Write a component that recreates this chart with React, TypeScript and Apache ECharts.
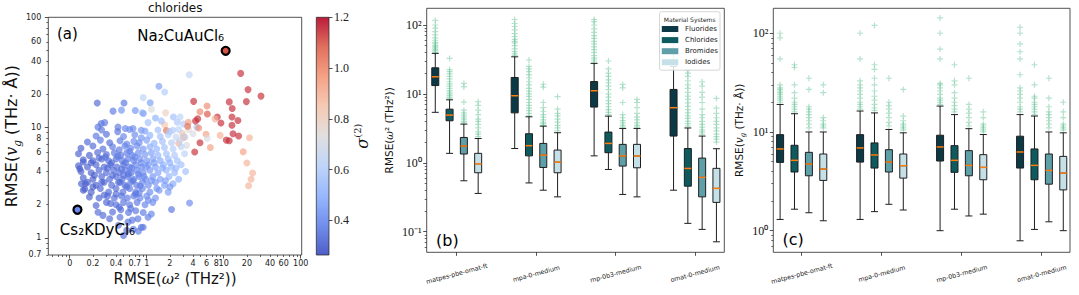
import { useEffect, useRef } from 'react';
import * as echarts from 'echarts';

// ---------- shared categories ----------
const models = ['matpes-pbe-omat-ft', 'mpa-0-medium', 'mp-0b3-medium', 'omat-0-medium'];
const materials = ['Fluorides', 'Chlorides', 'Bromides', 'Iodides'];
const materialColors = ['#0b3a46', '#0d5a5f', '#5e9fa8', '#c5e0e6'];
const boxOffsets = [-0.27, -0.09, 0.09, 0.27];

// ---------- panel (a): chlorides scatter [RMSE(w^2), RMSE(v_g), sigma] ----------
const chloridePoints: number[][] = [
  [0.228, 16.7, 0.32], [0.507, 16.7, 0.35], [0.365, 14.1, 0.36], [0.71, 14.3, 0.42], [0.87, 13.7, 0.58], [1.11, 16.8, 0.45],
  [1.44, 23.7, 0.45], [0.9, 18.7, 0.62], [1.71, 21, 0.6], [1.15, 14.7, 0.72], [1.76, 13.6, 0.8], [3.57, 30.1, 0.64],
  [0.257, 10.9, 0.34], [0.285, 11.1, 0.36], [0.233, 10.1, 0.35], [0.424, 10.1, 0.36], [0.527, 9.8, 0.38], [0.664, 9.8, 0.4],
  [0.85, 9.45, 0.42], [1.04, 11.1, 0.55], [1.71, 10.6, 0.85], [1.8, 9.4, 1.05], [2.19, 9.45, 0.6], [2.5, 11.2, 0.58],
  [2.22, 12.5, 0.55], [2.71, 12.5, 0.62], [0.47, 14.4, 0.42], [0.905, 13.4, 0.45], [1.3, 12.2, 0.5], [1.55, 11.5, 0.55],
  [3.15, 8.2, 0.66], [4.0, 8.8, 0.72], [4.47, 10.1, 0.58], [3.0, 10.8, 0.6], [3.5, 9.6, 0.75],
  [16.6, 31, 1.15], [20.7, 22.1, 1.15], [30.5, 19.3, 1.15], [19.7, 17.2, 1.15], [11.8, 17.1, 1.15], [12.9, 14.9, 1.15],
  [4.07, 17.3, 1.15], [6.07, 15.7, 1.0], [4.92, 13.9, 1.0], [6.13, 13.3, 1.1], [8.26, 12.5, 1.15], [4.6, 12.0, 1.15],
  [4.3, 11.5, 1.15], [7.7, 12, 0.9], [12.8, 12.5, 1.15], [15.3, 11.6, 1.15], [9.2, 11.0, 1.15], [12.8, 10.5, 1.15],
  [3.47, 11.2, 0.95], [3.4, 10.3, 1.05], [4.73, 9.9, 1.0], [5.9, 8.7, 0.95], [9.0, 8.5, 0.9], [13.2, 8.8, 1.15],
  [15.6, 8.4, 1.15], [10.8, 7.7, 1.15], [11.8, 7.6, 1.15], [21.6, 8.1, 0.9], [4.92, 7.3, 1.15], [6.7, 6.6, 0.95],
  [4.2, 6.0, 1.15], [17.9, 6.05, 0.95], [20, 4.77, 0.9], [23.7, 3.87, 0.9], [22.7, 3.4, 0.9], [21, 2.97, 0.9],
  [6.1, 8.0, 0.72], [2.9, 8.9, 0.85], [2.6, 7.2, 0.9], [3.3, 6.9, 0.72], [2.99, 8.2, 0.95],
  [0.26, 9.5, 0.35], [0.42, 9.2, 0.35], [0.6, 9.6, 0.4], [0.95, 9.3, 0.45], [1.4, 9.5, 0.55], [2.0, 9.2, 0.6], [2.6, 9.6, 0.62],
  [0.22, 8.4, 0.35], [0.3, 8.7, 0.33], [0.5, 8.3, 0.38], [0.7, 8.6, 0.4], [0.85, 8.1, 0.42], [1.1, 8.5, 0.5], [1.5, 8.3, 0.55],
  [1.9, 8.6, 0.6], [2.4, 8.2, 0.65], [3.0, 8.4, 0.68],
  [0.17, 7.4, 0.32], [0.25, 7.7, 0.35], [0.33, 7.3, 0.33], [0.45, 7.6, 0.36], [0.55, 7.1, 0.38], [0.68, 7.5, 0.4],
  [0.8, 7.3, 0.4], [1.0, 7.7, 0.45], [1.25, 7.2, 0.5], [1.6, 7.5, 0.55], [2.1, 7.3, 0.6], [2.7, 7.6, 0.65],
  [0.14, 6.5, 0.3], [0.2, 6.8, 0.32], [0.27, 6.4, 0.33], [0.36, 6.7, 0.35], [0.44, 6.3, 0.35], [0.52, 6.8, 0.38],
  [0.62, 6.5, 0.38], [0.75, 6.8, 0.4], [0.9, 6.4, 0.42], [1.1, 6.7, 0.48], [1.35, 6.4, 0.5], [1.7, 6.6, 0.55], [2.2, 6.4, 0.6], [2.8, 6.7, 0.62],
  [0.13, 5.8, 0.3], [0.18, 5.6, 0.3], [0.23, 5.95, 0.32], [0.3, 5.7, 0.33], [0.38, 5.9, 0.35], [0.46, 5.6, 0.34],
  [0.55, 5.9, 0.36], [0.65, 5.6, 0.38], [0.78, 5.9, 0.4], [0.95, 5.7, 0.42], [1.15, 5.9, 0.45], [1.4, 5.6, 0.5],
  [1.8, 5.8, 0.55], [2.3, 5.6, 0.58], [3.1, 5.8, 0.62],
  [0.15, 5.1, 0.3], [0.2, 5.0, 0.31], [0.26, 5.2, 0.32], [0.32, 5.0, 0.33], [0.4, 5.2, 0.34], [0.48, 5.0, 0.35],
  [0.57, 5.2, 0.36], [0.68, 5.0, 0.37], [0.82, 5.2, 0.4], [1.0, 5.0, 0.42], [1.2, 5.2, 0.45], [1.5, 5.0, 0.48], [1.9, 5.2, 0.52], [2.5, 5.0, 0.55],
  [0.13, 4.5, 0.3], [0.17, 4.4, 0.3], [0.22, 4.6, 0.31], [0.28, 4.4, 0.32], [0.34, 4.6, 0.33], [0.41, 4.4, 0.33],
  [0.5, 4.6, 0.35], [0.6, 4.4, 0.36], [0.72, 4.6, 0.38], [0.86, 4.4, 0.4], [1.05, 4.6, 0.42], [1.3, 4.4, 0.45],
  [1.65, 4.6, 0.5], [2.1, 4.4, 0.52], [2.8, 4.6, 0.55],
  [0.14, 4.0, 0.3], [0.19, 3.9, 0.3], [0.24, 4.1, 0.31], [0.3, 3.9, 0.32], [0.37, 4.1, 0.33], [0.44, 3.9, 0.34],
  [0.53, 4.1, 0.35], [0.63, 3.9, 0.36], [0.75, 4.1, 0.38], [0.9, 3.9, 0.4], [1.1, 4.1, 0.42], [1.4, 3.9, 0.45],
  [1.8, 4.1, 0.5], [2.3, 3.9, 0.52], [3.2, 4.0, 0.55],
  [0.15, 3.5, 0.3], [0.2, 3.4, 0.3], [0.26, 3.6, 0.31], [0.33, 3.4, 0.32], [0.4, 3.6, 0.33], [0.48, 3.4, 0.34],
  [0.57, 3.6, 0.35], [0.68, 3.4, 0.36], [0.8, 3.6, 0.38], [0.97, 3.4, 0.4], [1.2, 3.6, 0.42], [1.5, 3.4, 0.45], [1.95, 3.6, 0.5], [2.6, 3.4, 0.5],
  [0.16, 3.1, 0.3], [0.22, 3.0, 0.3], [0.28, 3.2, 0.31], [0.35, 3.0, 0.32], [0.43, 3.2, 0.33], [0.52, 3.0, 0.34],
  [0.62, 3.2, 0.35], [0.74, 3.0, 0.36], [0.88, 3.2, 0.38], [1.05, 3.0, 0.4], [1.3, 3.2, 0.42], [1.7, 3.0, 0.45], [2.2, 3.1, 0.48],
  [0.15, 2.7, 0.3], [0.19, 2.6, 0.3], [0.25, 2.8, 0.31], [0.32, 2.6, 0.32], [0.4, 2.8, 0.33], [0.49, 2.6, 0.34],
  [0.6, 2.8, 0.35], [0.72, 2.6, 0.36], [0.88, 2.8, 0.38], [1.1, 2.6, 0.4], [1.45, 2.7, 0.42], [1.9, 2.6, 0.45],
  [0.18, 2.35, 0.3], [0.24, 2.3, 0.31], [0.31, 2.4, 0.32], [0.38, 2.3, 0.33], [0.47, 2.4, 0.34], [0.56, 2.3, 0.35],
  [0.68, 2.4, 0.36], [0.82, 2.3, 0.38], [1.0, 2.4, 0.4], [1.3, 2.3, 0.42],
  [0.3, 2.1, 0.31], [0.4, 2.0, 0.33], [0.5, 2.1, 0.34], [0.6, 2.0, 0.35], [0.75, 2.1, 0.36], [0.95, 2.0, 0.38],
  [1.2, 2.1, 0.4], [2.1, 1.81, 0.35], [3.6, 2.07, 0.4],
  [0.36, 1.72, 0.32], [0.46, 1.8, 0.33], [0.58, 1.7, 0.34], [0.72, 1.76, 0.35], [0.9, 1.7, 0.36],
  [0.5, 1.05, 0.33], [0.55, 1.17, 0.34], [0.67, 1.2, 0.35], [0.78, 1.15, 0.36], [0.9, 1.25, 0.36], [0.43, 1.3, 0.33], [0.65, 1.45, 0.35],
  [0.29, 5.4, 0.34], [0.35, 4.8, 0.33], [0.42, 5.5, 0.36], [0.47, 4.2, 0.34], [0.53, 4.8, 0.35], [0.58, 3.8, 0.35],
  [0.64, 4.3, 0.37], [0.7, 5.4, 0.38], [0.36, 3.7, 0.33], [0.31, 4.3, 0.32], [0.45, 3.2, 0.33], [0.55, 2.9, 0.34],
  [0.66, 3.3, 0.36], [0.78, 3.8, 0.38], [0.85, 4.8, 0.4], [0.92, 3.6, 0.4], [0.26, 3.2, 0.31], [0.4, 2.5, 0.33],
  [0.5, 3.7, 0.34], [0.6, 6.1, 0.38], [0.72, 2.5, 0.36], [0.82, 2.95, 0.37], [0.98, 4.4, 0.42], [1.15, 3.3, 0.42],
  [1.25, 4.8, 0.45], [1.35, 2.8, 0.42], [1.6, 4.3, 0.48], [1.75, 3.3, 0.45], [2.0, 4.8, 0.5], [2.4, 4.3, 0.52],
  [2.0, 2.9, 0.42], [0.24, 5.3, 0.32], [0.19, 4.8, 0.3], [0.21, 3.7, 0.3], [0.17, 3.2, 0.3], [0.2, 2.9, 0.3],
  [0.28, 2.45, 0.32], [0.34, 2.05, 0.32], [0.44, 1.9, 0.33], [0.62, 1.85, 0.35], [0.8, 2.55, 0.37], [1.05, 2.2, 0.4],
  [0.233, 1.71, 0.33], [0.33, 1.49, 0.32], [0.27, 1.6, 0.32], [0.45, 1.54, 0.34], [0.57, 1.39, 0.34], [0.77, 1.49, 0.35],
  [1.04, 1.54, 0.37], [0.85, 1.25, 0.36], [1.15, 1.65, 0.38], [0.157, 2.78, 0.3], [0.142, 3.1, 0.3], [0.135, 4.24, 0.3],
  [0.15, 4.87, 0.31], [0.22, 1.97, 0.31],
];
const highlightNames = ['Na₂CuAuCl₆', 'Cs₂KDyCl₆'];
const highlightPoints = [[10.6, 49.7, 1.1], [0.126, 1.8, 0.4]];

// axis ticks / labels panel (a)
const aXLabels = [0.1, 0.2, 0.4, 0.7, 1, 2, 4, 6, 8, 10, 20, 40, 60, 100];
const aXMajor = [0.1, 1, 10, 100];
const aXMinor = [0.06, 0.07, 0.08, 0.09, 0.2, 0.3, 0.4, 0.5, 0.6, 0.7, 0.8, 0.9, 2, 3, 4, 5, 6, 7, 8, 9, 20, 30, 40, 50, 60, 70, 80, 90];
const aYLabels = [0.7, 1, 2, 4, 6, 8, 10, 20, 40, 60, 100];
const aYMajor = [1, 10, 100];
const aYMinor = [0.7, 0.8, 0.9, 2, 3, 4, 5, 6, 7, 8, 9, 20, 30, 40, 50, 60, 70, 80, 90];
const sigmaTicks = [0.4, 0.6, 0.8, 1.0, 1.2];
const coolwarm = ['#3b4cc0', '#6282ea', '#8db0fe', '#b8d0f9', '#dddcdc', '#f5c4ac', '#f4987a', '#de604d', '#b40426'];

// ---------- panel (b): RMSE(w^2) boxes [min, Q1, median, Q3, max] per model ----------
const omegaFluorides = [[5.4, 13.2, 17.7, 23.9, 38.7], [1.61, 5.3, 9.4, 17.3, 34.5], [1.26, 6.43, 11.1, 15.1, 27.7], [0.4, 2.44, 6.3, 11.6, 25]];
const omegaChlorides = [[1.37, 4.07, 4.92, 6.0, 8.2], [0.51, 1.26, 1.77, 2.64, 4.65], [0.8, 1.4, 1.91, 2.79, 4.75], [0.132, 0.458, 0.828, 1.61, 3.2]];
const omegaBromides = [[0.548, 1.34, 1.75, 2.33, 3.64], [0.4, 0.855, 1.29, 1.91, 3.4], [0.347, 0.895, 1.26, 1.85, 3.15], [0.108, 0.32, 0.614, 1.17, 2.44]];
const omegaIodides = [[0.359, 0.716, 0.967, 1.37, 2.25], [0.32, 0.716, 1.02, 1.53, 2.73], [0.32, 0.846, 1.25, 1.85, 3.15], [0.0713, 0.266, 0.425, 0.83, 1.6]];
const omegaFluoridesOut = [
  [40, 42, 44, 46, 48, 50, 53, 56, 60, 65, 72, 80, 90, 100, 117],
  [36, 38, 41, 45, 50, 55, 58, 62, 68, 75, 85, 95, 105, 120],
  [29, 31, 33, 36, 40, 44, 48, 53, 58, 64, 70, 78, 88, 100, 112, 120],
  [27, 30, 34, 38, 43, 48, 55, 62, 70, 80, 95, 110],
];
const omegaChloridesOut = [
  [8.6, 9, 9.5, 10, 10.6, 11.2, 12, 13, 14, 15, 16.5, 18, 19.5, 21, 22.5, 32.7],
  [4.8, 5.2, 5.7, 6.2, 6.8, 7.5, 8.3, 9.2, 10, 11, 12, 13.5, 15, 17, 19, 21, 23, 25, 31],
  [5, 5.4, 5.9, 6.5, 7.2, 8, 9, 10, 11.5, 13, 14.5, 16, 18, 20, 23, 30],
  [3.4, 3.7, 4, 4.4, 4.8, 5.3, 5.9, 6.6, 7.4, 8.3, 9.3, 10.5, 12, 13.5, 15.5, 18, 20, 22],
];
const omegaBromidesOut = [
  [3.8, 4, 4.3, 4.6, 4.9, 5.3, 5.8, 7.6, 12.6, 14.2],
  [3.5, 3.7, 3.9, 4.2, 4.6, 5, 5.6, 6.3, 7.5, 12.5, 13.8],
  [3.3, 3.5, 3.8, 4.1, 4.5, 5, 7.5, 12.2, 13.7],
  [2.6, 2.8, 3, 3.3, 3.6, 4, 4.5, 5, 6, 7.5, 9, 10.5, 13, 15],
];
const omegaIodidesOut = [
  [2.4, 2.6, 2.8, 3.2, 3.6, 4, 4.3, 5, 5.8, 6.8, 7.7],
  [2.9, 3.2, 3.5, 3.9, 4.3, 4.8, 5.2, 6, 9.1],
  [3.3, 3.5, 3.8, 4.2, 4.6, 5.2, 6.3, 7.5, 8.3],
  [2, 2.2, 2.4, 2.6, 2.9, 3.2, 3.6, 4, 4.5, 5.2, 6.2, 8.6],
];

// ---------- panel (c): RMSE(v_g) boxes ----------
const vgFluorides = [[1.3, 4.92, 6.73, 9.4, 19], [1.3, 4.95, 6.89, 9.4, 16.3], [1.0, 5.08, 7.05, 9.27, 18.3], [0.79, 4.31, 6.27, 9.06, 15]];
const vgChlorides = [[1.65, 3.93, 5.16, 7.33, 15.3], [1.56, 4.31, 5.85, 7.75, 15.6], [1.65, 3.9, 5.16, 7.27, 15], [1.03, 3.28, 4.59, 6.73, 14.5]];
const vgBromides = [[1.52, 3.6, 4.73, 6.22, 10], [1.85, 3.93, 4.96, 6.62, 10.6], [1.41, 3.6, 4.59, 6.47, 10.8], [1.23, 2.96, 4.08, 5.98, 10]];
const vgIodides = [[1.26, 3.23, 4.21, 5.98, 10], [1.62, 3.41, 4.55, 5.98, 9.8], [1.47, 3.28, 4.38, 5.89, 9.42], [1.0, 2.59, 3.83, 5.66, 9.8]];
const vgFluoridesOut = [
  [20, 21, 22, 23, 24, 25, 26, 27, 28, 30, 55, 90, 100],
  [17, 18, 19, 20, 22, 24, 26, 28, 30, 33, 55, 100],
  [19, 20, 21, 22, 24, 26, 28, 30, 31, 55, 69, 100, 143],
  [16, 17, 18, 20, 22, 24, 26, 28, 38, 55, 65, 78, 100, 115],
];
const vgChloridesOut = [
  [16, 17, 18, 19, 20, 22, 25, 30, 45, 48],
  [16.5, 17.5, 19, 21, 23, 26, 30, 35, 43, 48, 120],
  [16, 17, 18.5, 20, 22, 25, 30, 33, 48],
  [15, 16, 17, 18, 19, 20, 22, 23, 30, 48],
];
const vgBromidesOut = [
  [11, 12, 13, 14, 15, 16, 17, 18, 27, 35],
  [11.5, 12.5, 14, 15.5, 17, 18.5, 20, 35],
  [11.5, 12.5, 14, 15.5, 17, 19, 35],
  [11, 12, 13, 14, 15, 16, 18, 22, 35],
];
const vgIodidesOut = [
  [11, 11.5, 12, 13, 14, 25, 30],
  [10.5, 11, 11.5, 12, 13, 14.5, 27],
  [10, 10.5, 11, 11.5, 12, 14, 16],
  [10.5, 11, 11.5, 12, 14, 16, 20],
];

const bYMajor = [0.1, 1, 10, 100];
const bYMinor = [0.06, 0.07, 0.08, 0.09, 0.2, 0.3, 0.4, 0.5, 0.6, 0.7, 0.8, 0.9, 2, 3, 4, 5, 6, 7, 8, 9, 20, 30, 40, 50, 60, 70, 80, 90];
const cYMajor = [1, 10, 100];
const cYMinor = [0.7, 0.8, 0.9, 2, 3, 4, 5, 6, 7, 8, 9, 20, 30, 40, 50, 60, 70, 80, 90];
const modelTicks = [0, 1, 2, 3];

const PLUS = 'path://M4,0H6V4H10V6H6V10H4V6H0V4H4Z';
const SANS = 'DejaVu Sans';
const SERIF = 'Liberation Serif';
const AX = '#262626';
const SUP: Record<string, string> = { '-': '⁻', '0': '⁰', '1': '¹', '2': '²', '3': '³' };

function fmtNum(v: number) {
  return String(parseFloat(Number(v).toPrecision(3)));
}
function powLabel(v: number) {
  const e = String(Math.round(Math.log10(v)));
  return '10' + e.split('').map((c) => SUP[c] ?? c).join('');
}
const noLine = { show: false, onZero: false };

function buildBoxes(stats: number[][][], xi: number, yi: number, outs: number[][][]) {
  const boxData: any[] = [];
  const medData: any[] = [];
  const outData: any[] = [];
  stats.forEach((perModel, m) => {
    perModel.forEach((s, g) => {
      const x = g + boxOffsets[m];
      boxData.push({ value: [x, ...s], itemStyle: { color: materialColors[m] } });
      medData.push([x, s[2]]);
      outs[m][g].forEach((v) => outData.push([x, v]));
    });
  });
  return [
    {
      type: 'scatter', xAxisIndex: xi, yAxisIndex: yi, symbol: PLUS, symbolSize: 6, z: 1,
      itemStyle: { color: '#5cbf8e', opacity: 0.45 }, data: outData, silent: true,
    },
    {
      type: 'boxplot', xAxisIndex: xi, yAxisIndex: yi, boxWidth: [7, 7], z: 2,
      itemStyle: { borderColor: '#1e1e1e', borderWidth: 1 }, data: boxData, silent: true,
    },
    {
      type: 'scatter', xAxisIndex: xi, yAxisIndex: yi, symbol: 'rect', symbolSize: [7, 1.5], z: 3,
      itemStyle: { color: '#ff7f0e', opacity: 1 }, data: medData, silent: true,
    },
  ];
}

function minorAxis(base: any, values: number[], len: number, position: string) {
  return {
    ...base,
    position,
    axisLine: noLine,
    axisLabel: { show: false },
    splitLine: { show: false },
    axisTick: { show: true, customValues: values, length: len, lineStyle: { color: AX, width: 0.7 } },
  };
}

export default function App() {
  const ref = useRef<HTMLDivElement>(null);
  useEffect(() => {
    if (!ref.current) return;
    const chart = echarts.init(ref.current, null, { renderer: 'svg' });

    const gridBase = { show: true, borderColor: AX, borderWidth: 0.8, backgroundColor: 'transparent', containLabel: false, outerBoundsMode: 'none' };

    // --- x axes ---
    const aX = { type: 'log', gridIndex: 0, logBase: 10, min: 0.0527, max: 103 };
    const bX = { type: 'value', gridIndex: 2, min: -0.378, max: 3.369 };
    const cX = { type: 'value', gridIndex: 3, min: -0.355, max: 3.354 };
    const catLabel = {
      customValues: modelTicks, formatter: (v: number) => models[Math.round(v)] ?? '',
      rotate: 15, align: 'center', verticalAlign: 'middle', margin: 21, fontSize: 6.3, color: '#222', fontFamily: SANS,
    };
    const xAxis: any[] = [
      {
        ...aX, position: 'bottom', axisLine: noLine, splitLine: { show: false },
        axisTick: { show: true, customValues: aXMajor, length: 3.5, lineStyle: { color: AX, width: 0.8 } },
        axisLabel: { customValues: aXLabels, formatter: (v: number) => (Math.abs(v - 0.1) < 1e-9 ? '0' : fmtNum(v)), fontSize: 8, margin: 4, color: '#222', fontFamily: SANS },
        name: '{t|RMSE(}{i|ω}{t|² (THz²))}', nameLocation: 'middle', nameGap: 12,
        nameTextStyle: { rich: { t: { fontSize: 15, fontFamily: SANS, color: '#111' }, i: { fontSize: 15, fontFamily: 'DejaVu Serif', fontStyle: 'italic', color: '#111' } } },
      },
      minorAxis(aX, aXMinor, 2, 'bottom'),
      { type: 'value', gridIndex: 1, show: false, min: 0, max: 1, axisLine: noLine },
      {
        ...bX, position: 'bottom', axisLine: noLine, splitLine: { show: false },
        axisTick: { show: true, customValues: modelTicks, length: 3.5, lineStyle: { color: AX, width: 0.8 } },
        axisLabel: catLabel,
      },
      {
        ...cX, position: 'bottom', axisLine: noLine, splitLine: { show: false },
        axisTick: { show: true, customValues: modelTicks, length: 3.5, lineStyle: { color: AX, width: 0.8 } },
        axisLabel: catLabel,
      },
    ];

    // --- y axes ---
    const aY = { type: 'log', gridIndex: 0, logBase: 10, min: 0.6999, max: 100.001 };
    const bY = { type: 'log', gridIndex: 2, logBase: 10, min: 0.0502, max: 174.6 };
    const cY = { type: 'log', gridIndex: 3, logBase: 10, min: 0.604, max: 179 };
    const vgRich = (fs: number, lh: number) => ({
      t: { fontSize: fs, fontFamily: SANS, color: '#111', lineHeight: lh },
      i: { fontSize: fs, fontFamily: 'DejaVu Serif', fontStyle: 'italic', color: '#111', lineHeight: lh },
      g: { fontSize: fs * 0.65, fontFamily: 'DejaVu Serif', fontStyle: 'italic', color: '#111', lineHeight: fs * 0.65, verticalAlign: 'bottom' },
    });
    const powLabelStyle = { formatter: powLabel, margin: 5, fontFamily: SERIF, fontSize: 12, color: '#111' };
    const yAxis: any[] = [
      {
        ...aY, position: 'left', axisLine: noLine, splitLine: { show: false },
        axisTick: { show: true, customValues: aYMajor, length: 3.5, lineStyle: { color: AX, width: 0.8 } },
        axisLabel: { customValues: aYLabels, formatter: (v: number) => fmtNum(v), fontSize: 8, margin: 7, color: '#222', fontFamily: SANS },
        name: '{t|RMSE(}{i|v}{g|g}{t| (THz· Å))}', nameLocation: 'middle', nameGap: 25,
        nameTextStyle: { rich: vgRich(16, 22) },
      },
      minorAxis(aY, aYMinor, 2, 'left'),
      {
        type: 'value', gridIndex: 1, min: 0.264, max: 1.2, position: 'right',
        axisLine: noLine, splitLine: { show: false },
        axisTick: { show: true, customValues: sigmaTicks, length: 3.5, lineStyle: { color: AX, width: 0.8 } },
        axisLabel: { customValues: sigmaTicks, formatter: (v: number) => v.toFixed(1), fontSize: 12, margin: 5, color: '#222', fontFamily: SERIF },
        name: '{i|σ}{s|(2)}', nameLocation: 'middle', nameRotate: 90, nameGap: 23,
        nameTextStyle: {
          rich: {
            i: { fontSize: 16, fontFamily: 'DejaVu Serif', fontStyle: 'italic', color: '#111', lineHeight: 20 },
            s: { fontSize: 10, fontFamily: 'DejaVu Serif', color: '#111', lineHeight: 10, verticalAlign: 'top' },
          },
        },
      },
      {
        ...bY, position: 'left', axisLine: noLine, splitLine: { show: false },
        axisTick: { show: true, customValues: bYMajor, length: 3.5, lineStyle: { color: AX, width: 0.8 } },
        axisLabel: { ...powLabelStyle, customValues: bYMajor },
        name: '{t|RMSE(}{i|ω}{t|² (THz²))}', nameLocation: 'middle', nameGap: 32,
        nameTextStyle: { rich: { t: { fontSize: 10.5, fontFamily: SANS, color: '#111' }, i: { fontSize: 10.5, fontFamily: 'DejaVu Serif', fontStyle: 'italic', color: '#111' } } },
      },
      minorAxis(bY, bYMinor, 2, 'left'),
      {
        ...cY, position: 'left', axisLine: noLine, splitLine: { show: false },
        axisTick: { show: true, customValues: cYMajor, length: 3.5, lineStyle: { color: AX, width: 0.8 } },
        axisLabel: { ...powLabelStyle, customValues: cYMajor },
        name: '{t|RMSE(}{i|v}{g|g}{t| (THz· Å))}', nameLocation: 'middle', nameGap: 27,
        nameTextStyle: { rich: vgRich(10.5, 14) },
      },
      minorAxis(cY, cYMinor, 2, 'left'),
    ];

    const series: any[] = [
      {
        type: 'scatter', xAxisIndex: 0, yAxisIndex: 0, symbolSize: 7, z: 2,
        itemStyle: { opacity: 0.66 }, data: chloridePoints, silent: true,
      },
      {
        type: 'scatter', xAxisIndex: 0, yAxisIndex: 0, symbolSize: 8, z: 3,
        itemStyle: { opacity: 1, borderColor: '#000', borderWidth: 2.2 },
        label: {
          show: true, position: 'inside', formatter: '{b}', fontSize: 15, color: '#000', fontFamily: SANS,
        },
        data: highlightPoints.map((p, i) => ({
          name: highlightNames[i], value: p,
          label: { offset: i === 0 ? [-45, -15] : [20, 20] },
        })),
        silent: true,
      },
      ...buildBoxes([omegaFluorides, omegaChlorides, omegaBromides, omegaIodides], 3, 3,
        [omegaFluoridesOut, omegaChloridesOut, omegaBromidesOut, omegaIodidesOut]),
      ...buildBoxes([vgFluorides, vgChlorides, vgBromides, vgIodides], 4, 5,
        [vgFluoridesOut, vgChloridesOut, vgBromidesOut, vgIodidesOut]),
    ];

    const gradStops = coolwarm.map((c, i) => ({ offset: i / (coolwarm.length - 1), color: c }));
    const legendX = 659.5;
    const legendY = 11.7;
    const graphic: any[] = [
      {
        type: 'rect', z: 50, silent: true,
        shape: { x: 316.3, y: 17.3, width: 12.7, height: 237.7 },
        style: { fill: new echarts.graphic.LinearGradient(0, 1, 0, 0, gradStops), stroke: AX, lineWidth: 0.8, opacity: 0.9 },
      },
      { type: 'text', z: 50, x: 57, y: 34, style: { text: '(a)', fontSize: 15, fontFamily: SANS, fill: '#000', verticalAlign: 'middle' } },
      { type: 'text', z: 50, x: 436, y: 240, style: { text: '(b)', fontSize: 16, fontFamily: SANS, fill: '#000', verticalAlign: 'middle' } },
      { type: 'text', z: 50, x: 782.5, y: 239, style: { text: '(c)', fontSize: 16, fontFamily: SANS, fill: '#000', verticalAlign: 'middle' } },
      {
        type: 'rect', z: 60, silent: true,
        shape: { x: legendX, y: legendY, width: 60.5, height: 58.5, r: 2 },
        style: { fill: 'rgba(255,255,255,0.85)', stroke: '#cccccc', lineWidth: 0.8 },
      },
      {
        type: 'text', z: 61, x: legendX + 30.2, y: 19,
        style: { text: 'Material Systems', fontSize: 6, fontFamily: SANS, fill: '#222', align: 'center', verticalAlign: 'middle' },
      },
      ...materials.flatMap((m, i) => [
        {
          type: 'rect', z: 61, silent: true,
          shape: { x: legendX + 2.3, y: 26 + i * 11.1, width: 16.5, height: 6 },
          style: { fill: materialColors[i] },
        },
        {
          type: 'text', z: 61, x: legendX + 25.5, y: 29 + i * 11.1,
          style: { text: m, fontSize: 7, fontFamily: SANS, fill: '#222', verticalAlign: 'middle' },
        },
      ]),
    ];

    chart.setOption({
      animation: false,
      backgroundColor: '#ffffff',
      textStyle: { fontFamily: SANS },
      title: { text: 'chlorides', left: 148, top: 2, padding: 0, textStyle: { fontSize: 12, fontWeight: 'normal', color: '#111', fontFamily: SANS } },
      grid: [
        { ...gridBase, left: 48.3, top: 17.3, width: 253.4, height: 237.7 },
        { ...gridBase, show: false, left: 316.3, top: 17.3, width: 12.7, height: 237.7 },
        { ...gridBase, left: 426.7, top: 8.3, width: 297.6, height: 244 },
        { ...gridBase, left: 773.3, top: 8.3, width: 296.7, height: 244 },
      ],
      xAxis,
      yAxis,
      visualMap: {
        type: 'continuous', show: false, min: 0.264, max: 1.2, dimension: 2, seriesIndex: [0, 1],
        inRange: { color: coolwarm },
      },
      series,
      graphic,
    });
    return () => chart.dispose();
  }, []);
  return <div ref={ref} style={{ position: 'fixed', left: 0, top: 0, width: 1079, height: 295 }} />;
}
